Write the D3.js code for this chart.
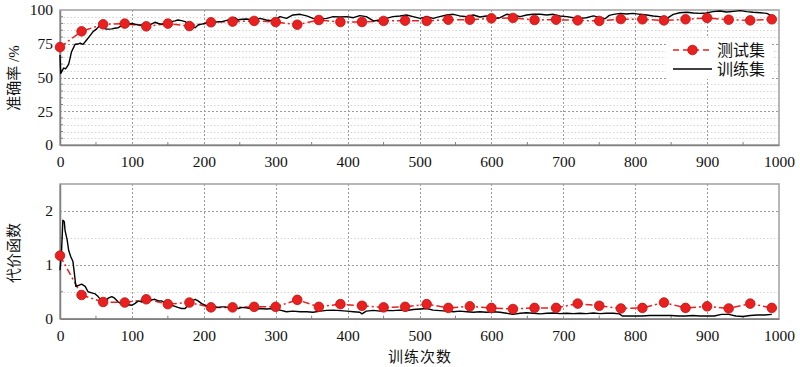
<!DOCTYPE html>
<html>
<head>
<meta charset="utf-8">
<script src="https://cdn.jsdelivr.net/npm/d3@7"></script>
<style>
  body { margin: 0; background: #fff; }
  svg text { font-family: "Liberation Serif", "Times New Roman", "Noto Sans CJK SC", serif !important; fill: #111; }
</style>
</head>
<body>
<div id="chart"></div>
<script>
// test set, sampled every 30 iterations
var testIter = [0,30,60,90,120,150,180,210,240,270,300,330,360,390,420,450,480,510,540,570,600,630,660,690,720,750,780,810,840,870,900,930,960,990];
var testAcc = [72.5,84.2,89.4,89.9,87.9,89.9,88.1,90.9,91.4,91.9,91.1,89.1,92.6,91.1,91.1,91.9,92.1,91.9,92.8,92.8,93.8,94.1,92.6,92.8,92.3,91.9,93.3,93.1,92.3,93.1,94.1,92.8,92.3,93.1];
var testCost = [1.17,0.44,0.31,0.30,0.36,0.27,0.30,0.21,0.21,0.22,0.22,0.35,0.22,0.27,0.24,0.21,0.22,0.27,0.20,0.23,0.20,0.18,0.20,0.20,0.28,0.24,0.19,0.20,0.30,0.20,0.23,0.19,0.28,0.20];

// training set
var accIter = [0,1,2,5,8,12,16,21,25,28,32,37,41,46,51,56,60,64,68,72,76,81,86,90,95,100,104,109,114,118,123,127,132,137,141,146,151,155,160,164,169,174,178,183,188,192,197,202,206,211,216,220,225,229,234,238,243,248,
  250,259,269,278,287,297,306,315,324,334,343,352,362,371,380,390,399,408,417,426,436,445,454,463,473,482,491,501,510,519,528,538,547,556,566,575,584,593,603,612,621,630,640,649,658,668,677,686,695,705,714,723,732,742,751,758,
  764,770,779,788,797,807,816,825,834,844,853,862,872,881,890,899,908,918,927,937,946,955,964,974,983,990];
var accTrain = [66.7,53,54,57,56.5,59.7,69,74.6,74.8,75.5,74.5,77.8,80.5,84,86,88.9,87.5,85.8,85.8,86,86.5,86.9,88.4,90,89.5,90,89.5,88.9,88.9,86.9,88.4,89.5,90.9,90,89.5,90,91.9,91.4,91.9,92.6,92.1,91.4,90,87.6,86.9,88.9,89.5,90,91.4,90,90.9,91.4,91.4,91.9,92.6,93.3,94.3,92.6,
  93,93.3,92.6,93.8,92.6,91.9,95.1,93.8,96.3,96.8,95.6,93.8,93.3,93.8,95.1,94.8,95.1,94.3,95.8,95.1,91.9,92.6,93.8,95.1,95.6,96.3,95.1,93.8,95.1,93.8,95.1,96.3,96.8,95.6,95.1,96.3,94.8,95.6,93.8,94.3,96.8,96.3,95.1,96.3,96.8,96.8,96.3,96.8,95.6,95.1,94.3,93.8,94.3,95.6,94.3,93.5,
  96,96.8,97.5,97,97.5,96.8,96.3,95.6,95.1,93.8,96.8,98,98.3,97.8,97.5,97.8,98.8,99.3,98.5,99,99.5,98.8,98.3,98,97.5,95.6];

var costIter = [0,2,4,6,7,10,12,15,18,20,22,26,30,35,39,44,49,53,58,63,67,72,76,81,86,90,95,100,104,109,114,118,123,127,132,137,141,146,151,155,160,164,169,174,178,183,188,192,197,202,206,211,216,220,225,229,234,238,243,248,253,
  259,269,278,287,297,306,315,324,334,343,352,362,371,380,390,399,408,417,420,426,436,445,454,463,473,482,491,501,510,519,528,538,547,556,566,575,584,593,603,612,621,630,640,649,658,668,677,686,695,705,714,723,732,742,751,760,770,778,
  782,790,800,810,820,830,840,850,860,870,880,890,900,910,920,930,940,950,960,970,980,990];
var costTrain = [0.90,1.21,1.83,1.80,1.64,1.46,1.27,1.15,1.06,0.84,0.60,0.62,0.64,0.60,0.50,0.48,0.46,0.41,0.33,0.31,0.38,0.41,0.38,0.31,0.27,0.25,0.26,0.25,0.28,0.33,0.31,0.36,0.38,0.35,0.36,0.33,0.33,0.30,0.28,0.25,0.23,0.21,0.19,0.19,0.25,0.33,0.36,0.33,0.28,0.25,0.23,0.22,0.22,0.21,0.22,0.22,0.21,0.22,0.21,0.19,0.21,
  0.20,0.18,0.19,0.18,0.19,0.16,0.13,0.14,0.13,0.13,0.12,0.14,0.155,0.16,0.15,0.14,0.13,0.12,0.09,0.14,0.155,0.14,0.155,0.15,0.16,0.15,0.17,0.18,0.19,0.16,0.15,0.14,0.13,0.14,0.13,0.12,0.13,0.12,0.13,0.12,0.10,0.08,0.10,0.11,0.10,0.09,0.10,0.105,0.095,0.10,0.095,0.10,0.095,0.105,0.095,0.10,0.10,0.09,
  0.05,0.05,0.05,0.05,0.06,0.06,0.06,0.06,0.05,0.05,0.06,0.05,0.05,0.05,0.08,0.08,0.05,0.04,0.06,0.07,0.07,0.08];

var xTicks = [0,100,200,300,400,500,600,700,800,900,1000];
var accTicks = [0,25,50,75,100];
var costTicks = [0,1,2];
var legendNames = ["测试集", "训练集"];

var W = 800, H = 367;
var red = "#e8201f";
var serif = "'Liberation Serif', 'Times New Roman', 'Noto Sans CJK SC', serif";

var svg = d3.select("#chart").append("svg")
    .attr("width", W)
    .attr("height", H);

var x = d3.scaleLinear().domain([0, 1000]).range([60, 779]);

function panel(top, bottom, yDomain, majorTicks, minorStep, trainX, trainY, testY, yLabel, labelY) {
  var y = d3.scaleLinear().domain(yDomain).range([bottom, top]);
  var g = svg.append("g");

  // minor horizontal grid
  var minor = d3.range(yDomain[0], yDomain[1] + 1e-9, minorStep)
      .filter(function(v) { return majorTicks.indexOf(+v.toFixed(3)) < 0 && v < yDomain[1] - 1e-9; });
  g.selectAll(".minor").data(minor).enter().append("line")
      .attr("x1", x(0)).attr("x2", x(1000))
      .attr("y1", function(d) { return Math.round(y(d)) + 0.5; })
      .attr("y2", function(d) { return Math.round(y(d)) + 0.5; })
      .attr("stroke", "#d4d4d4").attr("stroke-width", 1)
      .attr("stroke-dasharray", "1.5,2");

  // major grid
  g.selectAll(".hmaj").data(majorTicks.filter(function(v) { return v > yDomain[0] && v < yDomain[1]; }))
    .enter().append("line")
      .attr("x1", x(0)).attr("x2", x(1000))
      .attr("y1", function(d) { return Math.round(y(d)) + 0.5; })
      .attr("y2", function(d) { return Math.round(y(d)) + 0.5; })
      .attr("stroke", "#9a9a9a").attr("stroke-width", 1)
      .attr("stroke-dasharray", "2,2");
  g.selectAll(".vmaj").data(xTicks.slice(1, -1)).enter().append("line")
      .attr("x1", function(d) { return Math.round(x(d)) + 0.5; })
      .attr("x2", function(d) { return Math.round(x(d)) + 0.5; })
      .attr("y1", top).attr("y2", bottom)
      .attr("stroke", "#9a9a9a").attr("stroke-width", 1)
      .attr("stroke-dasharray", "2,2");

  // frame
  g.append("rect")
      .attr("x", x(0)).attr("y", top)
      .attr("width", x(1000) - x(0)).attr("height", bottom - top)
      .attr("fill", "none").attr("stroke", "#a0a0a0").attr("stroke-width", 1.5);

  // axes, ticks inside
  var xAxis = d3.axisBottom(x).tickValues(xTicks).tickSize(0).tickPadding(11)
      .tickFormat(d3.format("d"));
  g.append("g").attr("transform", "translate(0," + bottom + ")").call(xAxis)
      .attr("font-family", serif)
      .call(function(a) { a.select(".domain").attr("stroke", "#808080").attr("stroke-width", 1.5); })
      .selectAll("text").style("font-size", "15.5px").style("font-family", serif).attr("fill", "#111");
  g.selectAll(".xminor").data(d3.range(50, 1000, 100)).enter().append("line")
      .attr("x1", function(d) { return x(d); }).attr("x2", function(d) { return x(d); })
      .attr("y1", bottom).attr("y2", bottom - 3)
      .attr("stroke", "#808080");

  var yAxis = d3.axisLeft(y).tickValues(majorTicks).tickSize(0).tickPadding(7)
      .tickFormat(d3.format("d"));
  g.append("g").attr("transform", "translate(" + x(0) + ",0)").call(yAxis)
      .attr("font-family", serif)
      .call(function(a) { a.select(".domain").attr("stroke", "#808080").attr("stroke-width", 1.5); })
      .selectAll("text").style("font-size", "15.5px").style("font-family", serif).attr("fill", "#111");
  g.selectAll(".yminor").data(minor).enter().append("line")
      .attr("x1", x(0)).attr("x2", x(0) + 3)
      .attr("y1", function(d) { return y(d); }).attr("y2", function(d) { return y(d); })
      .attr("stroke", "#808080");

  // y label
  g.append("text")
      .attr("transform", "translate(19," + labelY + ") rotate(-90)")
      .attr("text-anchor", "middle")
      .style("font-size", "15px")
      .text(yLabel);

  // test series
  var testLine = d3.line()
      .x(function(d, i) { return x(testIter[i]); })
      .y(function(d) { return y(d); });
  g.append("path").datum(testY)
      .attr("d", testLine)
      .attr("fill", "none").attr("stroke", red).attr("stroke-width", 1.5)
      .attr("stroke-dasharray", "7,3,2,3");

  // training series
  var trainLine = d3.line()
      .x(function(d, i) { return x(trainX[i]); })
      .y(function(d) { return y(d); });
  g.append("path").datum(trainY)
      .attr("d", trainLine)
      .attr("fill", "none").attr("stroke", "#000").attr("stroke-width", 1.4)
      .attr("stroke-linejoin", "round");

  g.selectAll(".dot").data(testY).enter().append("circle")
      .attr("cx", function(d, i) { return x(testIter[i]); })
      .attr("cy", function(d) { return y(d); })
      .attr("r", 4.8)
      .attr("fill", red).attr("stroke", "#c41010").attr("stroke-width", 0.8);
  return g;
}

panel(10, 145, [0, 100], accTicks, 5, accIter, accTrain, testAcc, "准确率 /%", 78);
panel(184, 318.7, [0, 2.5], costTicks, 0.5, costIter, costTrain, testCost, "代价函数", 253);

// x axis title
svg.append("text")
    .attr("x", 420).attr("y", 362)
    .attr("text-anchor", "middle")
    .style("font-size", "15px")
    .style("letter-spacing", "1px")
    .text("训练次数");

// legend
var legend = svg.append("g");
legend.append("rect")
    .attr("x", 666).attr("y", 38).attr("width", 106).attr("height", 41)
    .attr("fill", "#fff");
var item = legend.selectAll(".item").data(legendNames).enter().append("g")
    .attr("transform", function(d, i) { return "translate(0," + (50 + i * 19) + ")"; });
item.append("line")
    .attr("x1", 673).attr("x2", 712).attr("y1", 0).attr("y2", 0)
    .attr("stroke", function(d, i) { return i === 0 ? red : "#000"; })
    .attr("stroke-width", 1.5)
    .attr("stroke-dasharray", function(d, i) { return i === 0 ? "6,4" : null; });
item.filter(function(d, i) { return i === 0; }).append("circle")
    .attr("cx", 692.5).attr("cy", 0).attr("r", 4.8)
    .attr("fill", red).attr("stroke", "#c41010").attr("stroke-width", 0.8);
item.append("text")
    .attr("x", 717).attr("y", 0).attr("dy", "0.36em")
    .style("font-size", "16px")
    .text(function(d) { return d; });
</script>
</body>
</html>
